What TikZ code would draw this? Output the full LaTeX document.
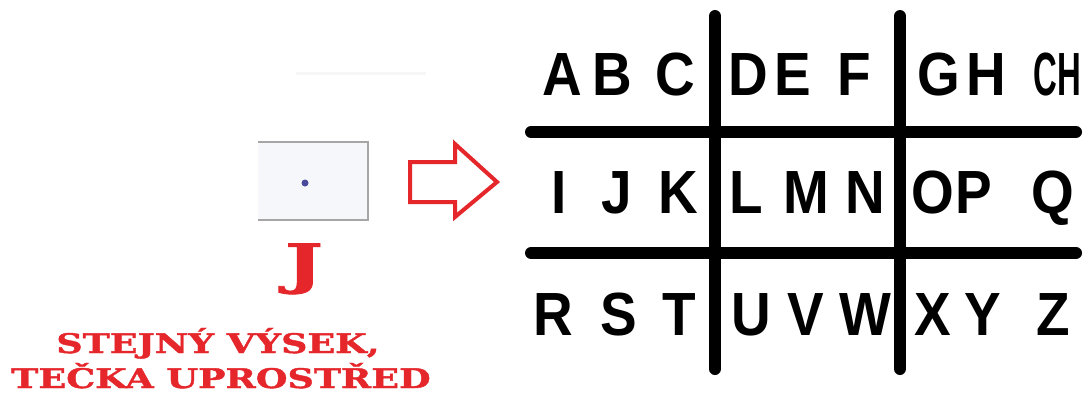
\documentclass[tikz,border=0pt]{standalone}
\usepackage{fontspec}
\newfontfamily\gridfont[FakeStretch=0.9]{Liberation Sans}
\newfontfamily\redfont[FakeStretch=1.35,FakeBold=1.5]{DejaVu Serif}
\newfontfamily\bigJfont[FakeStretch=1.5,FakeBold=1.5]{DejaVu Serif}
\definecolor{cred}{HTML}{E5262B}
\definecolor{dotblue}{HTML}{4A4A9A}
\definecolor{boxfill}{HTML}{F5F7FA}
\tikzset{
  glyph/.style={anchor=base, inner sep=0pt, font=\gridfont\bfseries\fontsize{61}{61}\selectfont},
  gridline/.style={line width=12pt, line cap=round, black},
  redtext/.style={text=cred, inner sep=0pt, anchor=base, font=\redfont\bfseries\fontsize{27}{27}\selectfont},
  boxedge/.style={draw=gray!70, line width=1.6pt},
  bigarrow/.style={draw=cred, line width=4pt, line join=miter}
}
\begin{document}
\begin{tikzpicture}[x=1pt, y=-1pt]
\useasboundingbox (0,0) rectangle (1088,399);
\fill[white] (0,0) rectangle (1088,399);
% faint mark
\draw[gray!6, line width=3pt] (296,73) -- (426,73);
% card
\fill[boxfill] (258,142) rectangle (368,220);
\draw[boxedge] (258,142) -- (368,142) -- (368,220) -- (258,220);
\node[circle, fill=dotblue, minimum size=7pt, inner sep=0pt] (dot) at (305,183) {};
% labels
\node[redtext, font=\bigJfont\bfseries\fontsize{54}{54}\selectfont] (Jl) at (304,283) {J};
\node[redtext] (l1) at (218,353) {STEJNÝ VÝSEK,};
\node[redtext] (l2) at (221,388) {TEČKA UPROSTŘED};
% arrow
\coordinate (a1) at (410,162);
\coordinate (a2) at (455,162);
\coordinate (a3) at (455,144);
\coordinate (a4) at (497,182);
\coordinate (a5) at (455,217);
\coordinate (a6) at (455,202);
\coordinate (a7) at (410,202);
\draw[bigarrow] (a1) -- (a2) -- (a3) -- (a4) -- (a5) -- (a6) -- (a7) -- cycle;
% grid lines
\coordinate (v1t) at (715,16); \coordinate (v1b) at (715,369);
\coordinate (v2t) at (900,16); \coordinate (v2b) at (900,369);
\coordinate (h1l) at (531,132); \coordinate (h1r) at (1076,132);
\coordinate (h2l) at (531,253); \coordinate (h2r) at (1076,253);
\draw[gridline] (v1t) -- (v1b);
\draw[gridline] (v2t) -- (v2b);
\draw[gridline] (h1l) -- (h1r);
\draw[gridline] (h2l) -- (h2r);
% letters row 1
\node[glyph] (gA) at (562,95) {A};
\node[glyph] (gB) at (612,95) {B};
\node[glyph] (gC) at (675,95) {C};
\node[glyph] (gD) at (748,95) {D};
\node[glyph] (gE) at (793,95) {E};
\node[glyph] (gF) at (854,95) {F};
\node[glyph] (gG) at (939,95) {G};
\node[glyph] (gH) at (986,95) {H};
\node[glyph] (gCH) at (1057,95) {\scalebox{0.6}[1]{CH}};
% row 2
\node[glyph] (gI) at (559,213) {I};
\node[glyph] (gJ) at (617,213) {J};
\node[glyph] (gK) at (678,213) {K};
\node[glyph] (gL) at (746,213) {L};
\node[glyph] (gM) at (806,213) {M};
\node[glyph] (gN) at (865,213) {N};
\node[glyph] (gO) at (933,213) {O};
\node[glyph] (gP) at (974,213) {P};
\node[glyph] (gQ) at (1053,213) {Q};
% row 3
\node[glyph] (gR) at (553,335) {R};
\node[glyph] (gS) at (619,335) {S};
\node[glyph] (gT) at (679,335) {T};
\node[glyph] (gU) at (751,335) {U};
\node[glyph] (gV) at (806,335) {V};
\node[glyph] (gW) at (865,335) {W};
\node[glyph] (gX) at (933,335) {X};
\node[glyph] (gY) at (983,335) {Y};
\node[glyph] (gZ) at (1053,335) {Z};
\end{tikzpicture}
\end{document}
